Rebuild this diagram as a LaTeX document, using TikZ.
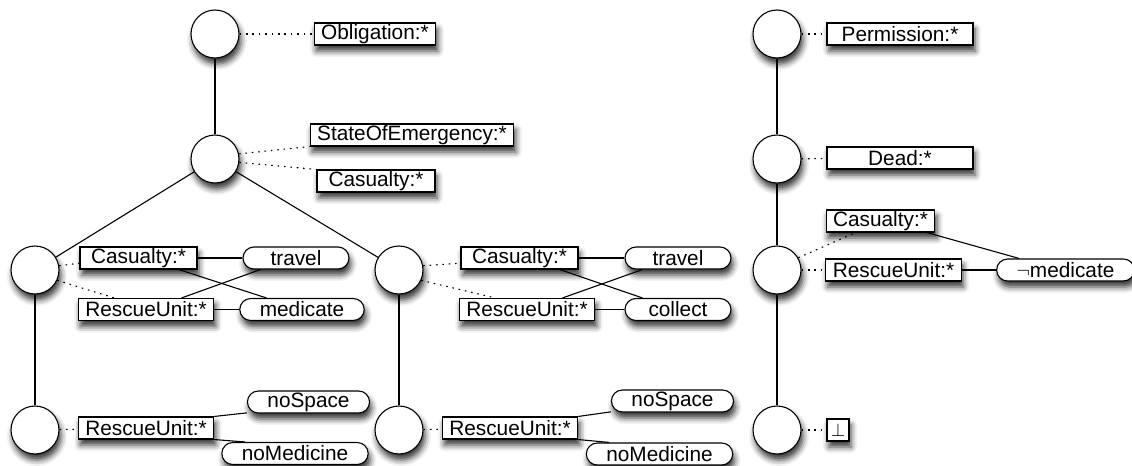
\documentclass[tikz,border=0pt]{standalone}
\usepackage{fontspec}
\setmainfont{Liberation Sans}
\usetikzlibrary{shadows.blur}

\begin{document}
\begin{tikzpicture}[x=0.5pt, y=-0.5pt, line width=0.55pt,
    every node/.style={font=\fontsize{10.4}{12}\selectfont},
    soft/.style={blur shadow={shadow xshift=1pt, shadow yshift=-3pt, shadow blur radius=3pt, shadow opacity=80}},
    world/.style={circle,draw,fill=white,minimum size=24pt,inner sep=0pt,soft},
    concept/.style={rectangle,draw,fill=white,minimum height=11pt,inner xsep=3.5pt,inner ysep=0pt,soft},
    relation/.style={rectangle,rounded corners=5.5pt,draw,fill=white,minimum height=11pt,minimum width=53pt,inner xsep=10pt,inner ysep=0pt,soft},
    link/.style={dash pattern=on 0.8pt off 2.4pt}]
    \useasboundingbox (0,0) rectangle (1132,466);

    % Obligation lattice
    \node[world] (cO) at (215,34) {};
    \node[world] (cS) at (215,159) {};
    \node[world] (cL) at (35,270) {};
    \node[world] (cM) at (399,270) {};
    \node[world] (cBL) at (35,430) {};
    \node[world] (cBM) at (399,430) {};

    \node[concept,minimum width=58pt] (ob) at (375,34) {Obligation:*};
    \node[concept,minimum width=95pt] (se) at (412,135) {StateOfEmergency:*};
    \node[concept,minimum width=59pt] (ca0) at (376,181) {Casualty:*};

    % Left world
    \node[concept,minimum width=58.5pt] (caL) at (138.5,258) {Casualty:*};
    \node[concept,minimum width=66pt] (ruL) at (146,309.5) {RescueUnit:*};
    \node[relation] (trL) at (296,258) {travel};
    \node[relation,minimum width=59pt] (meL) at (302,309.5) {medicate};

    % Middle world
    \node[concept,minimum width=58.5pt] (caM) at (519.5,258) {Casualty:*};
    \node[concept,minimum width=66pt] (ruM) at (527,309.5) {RescueUnit:*};
    \node[relation] (trM) at (678,258) {travel};
    \node[relation] (coM) at (678,309.5) {collect};

    % Bottom worlds
    \node[concept,minimum width=66pt] (ruBL) at (146,428) {RescueUnit:*};
    \node[relation,minimum width=58.5pt] (nsBL) at (308.5,402) {noSpace};
    \node[relation,minimum width=72pt] (nmBL) at (295,453.5) {noMedicine};

    \node[concept,minimum width=67pt] (ruBM) at (510,428) {RescueUnit:*};
    \node[relation,minimum width=59.5pt] (nsBM) at (672.5,401) {noSpace};
    \node[relation,minimum width=72.5pt] (nmBM) at (659.5,454) {noMedicine};

    % Permission lattice
    \node[world] (rP) at (777,34) {};
    \node[world] (rD) at (777,159) {};
    \node[world] (rC) at (777,270) {};
    \node[world] (rB) at (777,430) {};

    \node[concept,minimum width=73pt] (pe) at (900,34) {Permission:*};
    \node[concept,minimum width=73pt] (de) at (900,158) {Dead:*};
    \node[concept,minimum width=52.5pt] (caR) at (880.5,221) {Casualty:*};
    \node[concept,minimum width=66.5pt] (ruR) at (893.5,270) {RescueUnit:*};
    \node[relation,minimum width=64.5pt] (meR) at (1065.5,270) {$\neg$medicate};
    \node[concept,minimum width=11pt,inner xsep=0pt] (bo) at (838,430) {\small$\bot$};

    % lattice edges
    \draw (cO) -- (cS);
    \draw (cS) -- (cL);
    \draw (cS) -- (cM);
    \draw (cL) -- (cBL);
    \draw (cM) -- (cBM);
    \draw (rP) -- (rD) -- (rC) -- (rB);

    % world contents
    \draw[link] (cO) -- (ob);
    \draw[link] (cS.12) -- (se.south west);
    \draw[link] (cS.-8) -- (ca0.north west);

    \draw[link] (cL.10) -- (caL.185);
    \draw[link] (cL.-25) -- (ruL.160);
    \draw (caL) -- (trL);
    \draw (caL.-16) -- (meL.162);
    \draw (ruL.18) -- (trL.198);
    \draw (ruL) -- (meL);

    \draw[link] (cM.10) -- (caM.185);
    \draw[link] (cM.-25) -- (ruM.160);
    \draw (caM) -- (trM);
    \draw (caM.-16) -- (coM.162);
    \draw (ruM.18) -- (trM.198);
    \draw (ruM) -- (coM);

    \draw[link] (cBL) -- (ruBL);
    \draw (ruBL.north east) -- (nsBL.190);
    \draw (ruBL.south east) -- (nmBL.167);

    \draw[link] (cBM) -- (ruBM);
    \draw (ruBM.north east) -- (nsBM.190);
    \draw (ruBM.south east) -- (nmBM.167);

    \draw[link] (rP) -- (pe);
    \draw[link] (rD) -- (de);
    \draw[link] (rC.30) -- (caR.205);
    \draw[link] (rC) -- (ruR);
    \draw (caR.-14) -- (meR.166);
    \draw (ruR) -- (meR);
    \draw[link] (rB) -- (bo);
\end{tikzpicture}
\end{document}
